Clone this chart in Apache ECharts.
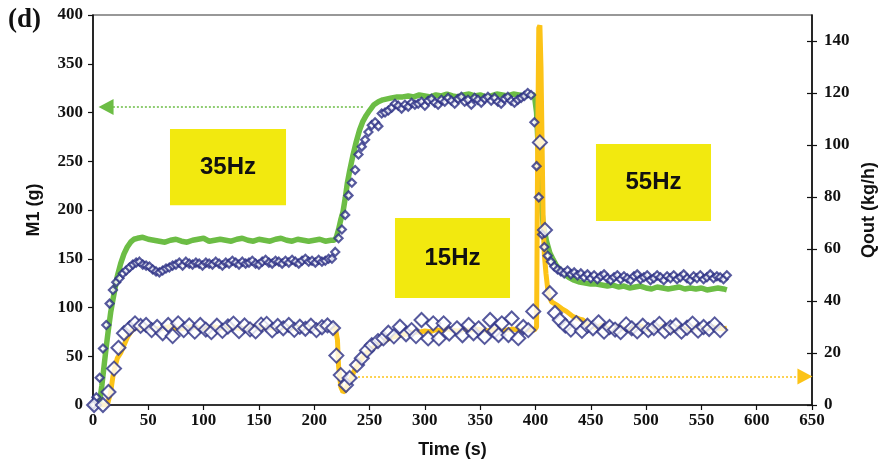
<!DOCTYPE html>
<html><head><meta charset="utf-8">
<script src="https://cdn.jsdelivr.net/npm/echarts@6/dist/echarts.min.js"></script>
<style>html,body{margin:0;padding:0;background:#fff}#c{width:879px;height:470px}</style>
</head><body><div id="c"></div>
<script>
// Time ticks / axis settings
const xTicks = {min: 0, max: 650, interval: 50};
const m1Ticks = {min: 0, max: 400, interval: 50};
const qoutTicks = [0, 20, 40, 60, 80, 100, 120, 140];
const qoutMax = 150;

// M1 measured (green line), [time s, M1 g]
const m1Measured = [[3,0],[6,3],[8,20],[10,40],[12,60],[14,78],[16,95],[18,108],[20,120],[22,132],[25,145],[28,155],[31,162],[34,167],[37,170],[40,171],[45,172],[50,170],[55,169],[60,168],[65,167],[70,169],[75,170],[80,168],[85,167],[90,169],[95,170],[100,171],[105,168],[110,169],[115,170],[120,169],[125,168],[130,170],[135,171],[140,169],[145,168],[150,170],[155,169],[160,168],[165,170],[170,171],[175,169],[180,168],[185,170],[190,169],[195,168],[200,169],[205,170],[210,168],[215,169],[218,169],[220,172],[222,180],[224,190],[226,198],[228,212],[230,228],[232,240],[235,256],[238,270],[241,282],[244,291],[247,297],[250,302],[254,308],[258,311],[262,313],[266,314],[270,315],[275,316],[280,316],[285,317],[290,316],[295,318],[300,317],[305,316],[310,318],[315,317],[320,319],[325,317],[330,316],[335,318],[340,319],[345,317],[350,318],[355,316],[360,317],[365,319],[370,318],[375,317],[380,319],[385,318],[390,317],[395,318],[399,318],[401,300],[403,250],[405,210],[407,185],[410,168],[413,156],[416,149],[419,143],[422,139],[425,135],[430,131],[435,128],[440,126],[445,125],[450,124],[455,124],[460,123],[465,122],[470,123],[475,121],[480,122],[485,120],[490,121],[495,122],[500,120],[505,119],[510,121],[515,120],[520,119],[525,120],[530,121],[535,119],[540,120],[545,119],[550,120],[555,118],[560,119],[565,120],[570,119],[573,118]];

// M1 model (small diamonds), [time s, M1 g]
const m1Model = [[0,0],[3,8],[6,28],[9,58],[12,82],[15,104],[18,118],[21,126],[24,130],[27,135],[30,138],[33,141],[36,144],[39,146],[42,147],[45,144],[48,143],[51,142],[54,139],[57,137],[60,136],[63,138],[66,140],[69,141],[72,143],[75,144],[78,146],[81,143],[84,147],[87,145],[90,144],[93,146],[96,145],[99,143],[102,146],[105,145],[108,144],[111,147],[114,145],[117,143],[120,146],[123,145],[126,148],[129,146],[132,144],[135,147],[138,145],[141,146],[144,148],[147,145],[150,144],[153,147],[156,149],[159,146],[162,145],[165,148],[168,147],[171,145],[174,148],[177,146],[180,149],[183,147],[186,145],[189,148],[192,150],[195,147],[198,148],[201,146],[204,149],[207,147],[210,148],[213,150],[216,150],[219,157],[222,171],[225,180],[228,195],[231,215],[234,228],[237,241],[240,257],[243,265],[246,272],[249,280],[252,287],[255,290],[258,286],[261,299],[264,300],[267,302],[270,305],[273,309],[276,307],[279,304],[282,308],[285,306],[288,310],[291,308],[294,309],[297,311],[300,307],[303,312],[306,314],[309,310],[312,308],[315,313],[318,311],[321,315],[324,312],[327,309],[330,314],[333,316],[336,311],[339,313],[342,308],[345,315],[348,313],[351,310],[354,314],[357,316],[360,312],[363,315],[366,311],[369,309],[372,314],[375,316],[378,312],[381,310],[384,313],[387,315],[390,317],[393,320],[396,318],[399,290],[401,245],[403,213],[406,175],[408,162],[411,153],[414,147],[417,142],[420,139],[423,137],[426,135],[429,138],[432,134],[435,136],[438,133],[441,135],[444,131],[447,134],[450,130],[453,133],[456,129],[459,132],[462,134],[465,130],[468,128],[471,131],[474,133],[477,129],[480,132],[483,130],[486,128],[489,132],[492,134],[495,129],[498,131],[501,133],[504,128],[507,130],[510,133],[513,131],[516,128],[519,132],[522,130],[525,133],[528,129],[531,131],[534,134],[537,130],[540,128],[543,132],[546,130],[549,133],[552,129],[555,131],[558,134],[561,130],[564,132],[567,131],[570,129],[573,133]];

// Qout measured (orange line), [time s, kg/h]
const qoutMeasured = [[0,0],[10,0],[13,0],[16,5],[18,11],[20,15],[22,18],[25,20],[28,23],[31,26],[34,28],[37,29.5],[40,29.8],[45,29.5],[50,30],[55,29.6],[60,29.2],[65,29.8],[70,30.2],[75,29.5],[80,29.3],[85,29.9],[90,30.1],[95,29.6],[100,29.4],[105,29.8],[110,30],[115,29.5],[120,29.7],[125,30.2],[130,29.6],[135,29.3],[140,29.9],[145,30.1],[150,29.5],[155,29.8],[160,30],[165,29.4],[170,29.7],[175,30.1],[180,29.6],[185,29.8],[190,30],[195,29.5],[200,29.7],[205,30.1],[210,29.8],[215,29.6],[219,29.8],[221,25],[222,15],[224,7],[226,5],[228,5.5],[230,7.5],[233,10],[236,13],[240,16],[245,19],[250,21],[255,22.5],[260,24],[265,25],[270,26],[275,26.5],[280,27],[285,27.5],[290,28],[295,28],[300,28.5],[305,28.2],[310,29],[315,28.6],[320,29.3],[325,28.8],[330,28.4],[335,29.1],[340,28.7],[345,29.2],[350,29],[355,28.5],[360,28.8],[365,29.4],[370,28.6],[375,28.9],[380,29.2],[385,28.7],[390,29],[395,28.8],[399,28.8],[401,30],[402,100],[403,145],[404,146],[405,130],[406,100],[407,70],[408,58],[409.5,50.6],[411.5,43],[414.5,39.7],[419,38.5],[424,37],[428,36],[434,34],[440,33],[443,32.7],[447,31],[450,30.5],[455,29.8],[460,30.8],[465,29.5],[470,28.6],[475,30.2],[480,29.4],[485,28.5],[490,29.8],[495,30.4],[500,29.2],[505,28.8],[510,29.9],[515,30.3],[520,29.1],[525,28.7],[530,30],[535,29.4],[540,28.9],[545,30.1],[550,29.6],[555,29.2],[560,30],[565,29.5],[570,29.3],[573,29.5]];

// Qout model (large diamonds), [time s, kg/h]
const qoutModel = [[1,0],[9,0],[14,5],[19,14],[23,22],[28,27.6],[33,29.5],[38,31.4],[43,30.4],[48,30.8],[53,28.8],[58,30],[63,27.6],[68,30.8],[72,26.5],[77,31.4],[82,28.8],[87,30.6],[92,28.2],[97,30.8],[102,29],[107,28],[112,30.5],[117,28.5],[122,30.2],[127,31.3],[132,28.4],[137,30.6],[142,29.1],[147,28.3],[152,30.9],[157,31.2],[162,28.7],[167,30.4],[172,29.5],[177,30.8],[182,28.9],[187,30.1],[192,29.3],[197,30.5],[202,28.8],[207,29.9],[212,30.6],[217,29.6],[220,19],[224,11.5],[228.7,7.7],[232,10.4],[238.7,15.4],[243,18],[247.7,21],[252,23],[257.6,24.6],[262.5,25.6],[267,27.8],[272,26.4],[277.5,30.1],[283,27.2],[288,28.8],[292,26.5],[297,32.7],[303,25.6],[307.6,31.4],[312.7,25.6],[317,31.4],[322,27.5],[329,29.5],[334,26.8],[339.6,30.8],[344,27.6],[348.6,29.5],[354,26.2],[359,32.7],[363,28.5],[366.6,26.9],[369.6,31.4],[375.6,26.9],[378.5,33.3],[384.5,25.7],[389,30],[393.5,28.8],[398,36],[404,101],[408.6,67.3],[413,43],[417.6,35.4],[422,32.7],[427,30.5],[432,29],[437,31.5],[442,28.5],[447,30.5],[452,29.5],[457,31.8],[462,28.2],[467,30],[472,29],[477,28],[482,31],[487,29.5],[492,28.3],[497,30.5],[502,28.8],[507,29.6],[512,31.2],[517,28.4],[522,29.8],[527,30.6],[532,28.2],[537,29.7],[542,31.3],[547,28.6],[552,30],[557,29.2],[562,31],[567,28.8]];

// Frequency annotation boxes: label, [t0, t1], [M1 top, M1 bottom]
const freqLabels = ['35Hz', '15Hz', '55Hz'];
const freqBoxT = [[69.6, 174.5], [273, 377], [454.7, 558.7]];
const freqBoxM1 = [[283, 205], [191.8, 109.7], [267.7, 188.7]];

// Arrows: green (to left axis) and orange (to right axis)
const greenArrow = {from: [244, 305.6], to: [11.8, 305.6]};
const orangeArrow = {from: [239.6, 11], to: [643.6, 11]};

const GREEN = '#6cbd45', ORANGE = '#fcc317', BLUE = '#2c2f84', YELLOW = '#f2e90f';
const serif = '"Liberation Serif","Times New Roman",serif';
const sans = '"Liberation Sans",Arial,sans-serif';
const tickLabel = {color: '#111', fontFamily: serif, fontWeight: 'bold', fontSize: 17};
const nameStyle = {color: '#111', fontFamily: sans, fontWeight: 'bold', fontSize: 18};

const chart = echarts.init(document.getElementById('c'), null, {renderer: 'canvas'});
chart.setOption({
  animation: false,
  backgroundColor: '#fff',
  grid: {left: 93, right: 67, top: 15, bottom: 65, show: true, borderColor: '#333', borderWidth: 1.2, outerBoundsMode: 'none'},
  graphic: [{type: 'text', left: 8, top: 7, style: {text: '(d)', font: 'bold 27px ' + serif, fill: '#111'}}],
  xAxis: {
    type: 'value', min: xTicks.min, max: xTicks.max, interval: xTicks.interval,
    name: 'Time (s)', nameLocation: 'middle', nameGap: 36, nameTextStyle: nameStyle,
    axisLine: {show: true, lineStyle: {color: '#111', width: 1.6}},
    axisTick: {show: true, inside: false, length: 5, lineStyle: {color: '#111', width: 1.2}},
    axisLabel: Object.assign({margin: 7}, tickLabel),
    splitLine: {show: false}
  },
  yAxis: [{
    type: 'value', position: 'left', min: m1Ticks.min, max: m1Ticks.max, interval: m1Ticks.interval,
    name: 'M1 (g)', nameLocation: 'middle', nameGap: 50, nameRotate: 90, nameTextStyle: nameStyle,
    axisLine: {show: true, lineStyle: {color: '#111', width: 1.6}},
    axisTick: {show: true, inside: false, length: 5, lineStyle: {color: '#111', width: 1.2}},
    axisLabel: Object.assign({margin: 10}, tickLabel),
    splitLine: {show: false}
  }, {
    type: 'value', position: 'right', min: 0, max: qoutMax,
    name: 'Qout (kg/h)', nameLocation: 'middle', nameGap: 48, nameRotate: 90, nameTextStyle: nameStyle,
    axisLine: {show: true, lineStyle: {color: '#111', width: 1.6}},
    axisTick: {show: true, inside: false, length: 5, customValues: qoutTicks, lineStyle: {color: '#111', width: 1.2}},
    axisLabel: Object.assign({margin: 12, customValues: qoutTicks}, tickLabel),
    splitLine: {show: false}
  }, {
    type: 'value', position: 'right', min: 0, max: qoutMax,
    axisLine: {show: false},
    axisTick: {show: true, inside: true, length: 5, customValues: qoutTicks, lineStyle: {color: '#111', width: 1.2}},
    axisLabel: {show: false},
    splitLine: {show: false}
  }],
  series: [{
    type: 'line', name: 'M1 measured', yAxisIndex: 0, data: m1Measured, showSymbol: false, z: 2,
    lineStyle: {color: GREEN, width: 5.5}, itemStyle: {color: GREEN},
    markArea: {
      silent: true, z: 1,
      itemStyle: {color: YELLOW, opacity: 1},
      label: {show: true, position: 'inside', color: '#111', fontFamily: sans, fontWeight: 'bold', fontSize: 24},
      data: freqLabels.map((n, i) => [
        {name: n, coord: [freqBoxT[i][0], freqBoxM1[i][0]]},
        {coord: [freqBoxT[i][1], freqBoxM1[i][1]]}
      ])
    },
    markLine: {
      silent: true, symbol: ['none', 'triangle'], symbolSize: [16, 15],
      label: {show: false},
      lineStyle: {color: GREEN, type: [2, 2], width: 1.5},
      itemStyle: {color: GREEN},
      data: [[{coord: greenArrow.from}, {coord: greenArrow.to}]]
    }
  }, {
    type: 'line', name: 'Qout measured', yAxisIndex: 1, data: qoutMeasured, showSymbol: false, z: 3,
    lineStyle: {color: ORANGE, width: 5}, itemStyle: {color: ORANGE},
    markLine: {
      silent: true, symbol: ['none', 'triangle'], symbolSize: [16, 15],
      label: {show: false},
      lineStyle: {color: ORANGE, type: [2, 2], width: 1.5},
      itemStyle: {color: ORANGE},
      data: [[{coord: orangeArrow.from}, {coord: orangeArrow.to}]]
    }
  }, {
    type: 'scatter', name: 'M1 model', yAxisIndex: 0, data: m1Model, symbol: 'diamond', symbolSize: 8, z: 4,
    itemStyle: {color: '#fff', borderColor: BLUE, borderWidth: 2.2}
  }, {
    type: 'scatter', name: 'Qout model', yAxisIndex: 1, data: qoutModel, symbol: 'diamond', symbolSize: 14, z: 5,
    itemStyle: {color: '#fff', borderColor: BLUE, borderWidth: 2}
  }]
});
</script></body></html>
